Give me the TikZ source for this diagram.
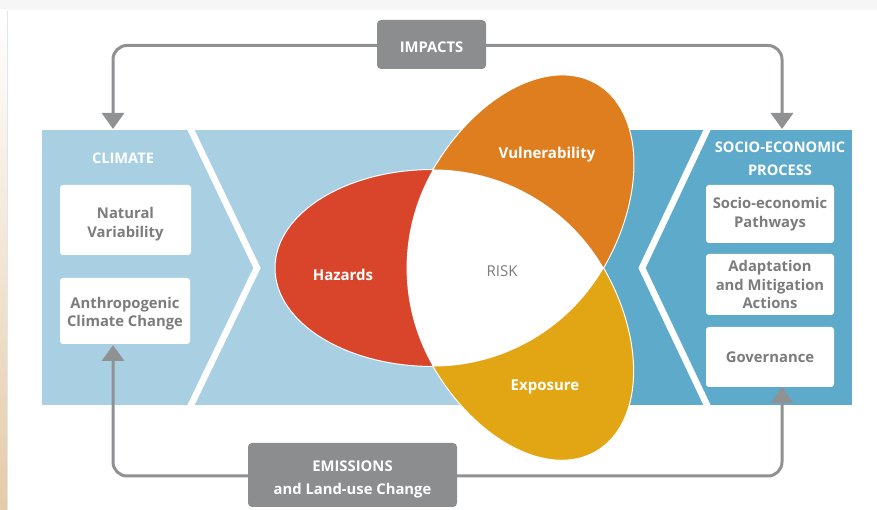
\documentclass[tikz,border=0pt]{standalone}
\usepackage{fontspec}
\setmainfont{Open Sans}
\usetikzlibrary{arrows.meta}
\definecolor{climblue}{HTML}{A9CFE2}
\definecolor{socblue}{HTML}{5EAACA}
\definecolor{hazred}{HTML}{D9452A}
\definecolor{vulorange}{HTML}{DE7E1F}
\definecolor{expgold}{HTML}{E2A615}
\definecolor{boxgray}{HTML}{8C8D8F}
\definecolor{linegray}{HTML}{909193}
\definecolor{txtgray}{HTML}{7C7C7C}
\definecolor{sand}{HTML}{E4CBA8}
\definecolor{topband}{HTML}{F6F6F6}
\definecolor{edgeline}{HTML}{DCE8EE}

\begin{document}
\begin{tikzpicture}[x=1pt,y=1pt,
  paneltitle/.style={font=\bfseries\fontsize{14.6}{22.5}\selectfont, text=white, align=center, inner sep=0pt},
  itembox/.style={fill=white, rounded corners=3pt, text=txtgray, font=\bfseries\fontsize{14.8}{18.5}\selectfont, align=center, inner sep=0pt},
  graybox/.style={fill=boxgray, rounded corners=4pt, text=white, font=\bfseries\fontsize{14.8}{23}\selectfont, align=center, inner sep=0pt},
  petallabel/.style={text=white, font=\bfseries\fontsize{15}{18}\selectfont, inner sep=0pt},
  flow/.style={draw=linegray, line width=3pt, rounded corners=14pt, -{Triangle[width=22pt,length=16pt]}},
  divider/.style={draw=white, line width=6.5pt, miter limit=20},
  petal/.style={draw=white, line width=1pt}
]
\useasboundingbox (0,0) rectangle (877,510);
\fill[white] (0,0) rectangle (877,510);
\fill[topband] (0,500) rectangle (877,510);
\shade[top color=white, bottom color=sand] (0,0) rectangle (7,500);
\draw[edgeline, line width=1pt] (7.5,0) -- (7.5,499);

% background panels with the two white chevrons
\fill[climblue] (42,105) rectangle (600,380);
\fill[socblue] (600,105) rectangle (852,380);
\begin{scope}
  \clip (42,105) rectangle (852,380);
  \draw[divider] (186.2,390) -- (257,242) -- (186.2,95);
  \draw[divider] (711.7,390) -- (642,242) -- (711.7,95);
\end{scope}

% the three petals around the risk triangle
\coordinate (G) at (489.9,242);
\path[petal, fill=hazred] (433,340.5) arc[start angle=90, end angle=270, x radius=158, y radius=98.5] -- cycle;
\path[petal, fill=vulorange, rotate around={-120:(G)}] (433,340.5) arc[start angle=90, end angle=270, x radius=156, y radius=98.5] -- cycle;
\path[petal, fill=expgold, rotate around={120:(G)}] (433,340.5) arc[start angle=90, end angle=270, x radius=155, y radius=98.5] -- cycle;
\fill[white] (433,340.5) arc[start angle=150, end angle=210, radius=197]
  arc[start angle=270, end angle=330, radius=197]
  arc[start angle=30, end angle=90, radius=197] -- cycle;

\node[petallabel] (vul) at (547,355.5) {Vulnerability};
\node[petallabel] (haz) at (343,235) {Hazards};
\node[petallabel] (exp) at (545,123.5) {Exposure};
\node[text=txtgray, font=\fontsize{15}{18}\selectfont, inner sep=0pt] (risk) at (502,239) {RISK};

% climate side
\node[paneltitle] (climate) at (123,351.5) {CLIMATE};
\node[itembox, minimum width=131pt, minimum height=70pt, text height=38pt] (natural) at (125.5,290) {Natural\\Variability};
\node[itembox, minimum width=130pt, minimum height=66pt, text height=35pt] (anthro) at (125,199) {Anthropogenic\\Climate Change};

% socio-economic side
\node[paneltitle] (socio) at (780,351) {SOCIO-ECONOMIC\\PROCESS};
\node[itembox, minimum width=128pt, minimum height=58pt] (path) at (770,296) {Socio-economic\\Pathways};
\node[itembox, minimum width=128pt, minimum height=61pt] (adapt) at (770,225.5) {Adaptation\\and Mitigation\\Actions};
\node[itembox, minimum width=128pt, minimum height=60pt] (gov) at (770,153) {Governance};

% feedback loops
\node[graybox, minimum width=109pt, minimum height=49pt, text height=16.5pt] (imp) at (431.5,465.5) {IMPACTS};
\node[graybox, minimum width=209pt, minimum height=64pt, text height=43.5pt] (emi) at (352.5,35) {EMISSIONS\\and Land-use Change};

\coordinate (climtop) at (113,381);
\coordinate (soctop) at (782,381);
\coordinate (anthrobot) at (113,165);
\coordinate (govbot) at (782,123);

\draw[flow] ([yshift=-1pt]imp.west) -| (climtop);
\draw[flow] ([yshift=-1pt]imp.east) -| (soctop);
\draw[flow] ([yshift=-1pt]emi.west) -| (anthrobot);
\draw[flow] ([yshift=-1pt]emi.east) -| (govbot);
\end{tikzpicture}
\end{document}
